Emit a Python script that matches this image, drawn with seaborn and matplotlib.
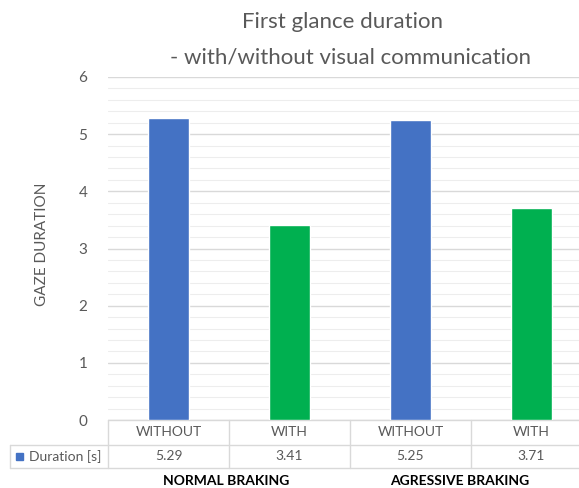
import matplotlib
matplotlib.use("Agg")
import matplotlib.pyplot as plt
from matplotlib.lines import Line2D
from matplotlib.patches import Rectangle
import seaborn as sns
import pandas as pd

title_lines = ["First glance duration", "- with/without visual communication"]
groups = ["NORMAL BRAKING", "AGRESSIVE BRAKING"]
conditions = ["WITHOUT", "WITH", "WITHOUT", "WITH"]
durations = [5.29, 3.41, 5.25, 3.71]
series_name = "Duration [s]"
bar_colors = ["#4472C4", "#00B050", "#4472C4", "#00B050"]
y_label = "GAZE DURATION"

sns.set_theme(style="white")
plt.rcParams['font.family'] = ['Lato', 'DejaVu Sans']

W, H = 579, 488
fig = plt.figure(figsize=(W / 100, H / 100), dpi=100)
fig.patch.set_facecolor("white")

ax_left, ax_bottom, ax_w, ax_h = 108, 488 - 420, 484, 343
ax = fig.add_axes([ax_left / W, ax_bottom / H, ax_w / W, ax_h / H])

df = pd.DataFrame({"pos": [str(i) for i in range(len(durations))],
                   "dur": durations})
sns.barplot(data=df, x="pos", y="dur", hue="pos", palette=bar_colors,
            legend=False, width=0.34, saturation=1, ax=ax, zorder=3)

ax.set_xlim(-0.5, len(durations) - 0.5)
ax.set_ylim(0, 6)
ax.set_yticks(range(0, 7))
ax.set_yticks([i * 0.2 for i in range(31)], minor=True)
ax.grid(axis="y", which="major", color="#D9D9D9", linewidth=1.0, zorder=0)
ax.grid(axis="y", which="minor", color="#EDEDED", linewidth=0.8, zorder=0)
ax.set_axisbelow(True)
for s in ax.spines.values():
    s.set_visible(False)
ax.tick_params(axis="y", which="both", length=0, pad=15, labelsize=11,
               labelcolor="#595959")
ax.set_xticks([])
ax.set_xlabel("")
ax.set_ylabel("")
fig.text(42 / W, 1 - 244 / H, y_label, rotation=90, ha="center", va="center",
         fontsize=11, color="#595959")

fig.text(342 / W, 1 - 22 / H, title_lines[0], ha="center", va="center",
         fontsize=16, color="#595959")
fig.text(350 / W, 1 - 57 / H, title_lines[1], ha="center", va="center",
         fontsize=16, color="#595959")

# Data table
def fy(px):
    return 1 - px / H

def fx(px):
    return px / W

line_c = "#D9D9D9"
xform = ax.get_xaxis_transform()
def ay(px):
    return -(px - 420) / ax_h

legend_left = (10 - ax_left) / ax_w
axt = ax.transAxes
# horizontal lines
ax.add_line(Line2D([0, 1], [ay(420), ay(420)], transform=axt, color=line_c,
                   lw=1, clip_on=False))
ax.add_line(Line2D([legend_left, 1], [ay(444.5), ay(444.5)], transform=axt,
                   color=line_c, lw=1, clip_on=False))
ax.add_line(Line2D([legend_left, 1], [ay(467.5), ay(467.5)], transform=axt,
                   color=line_c, lw=1, clip_on=False))
# vertical lines
for b in [i - 0.5 for i in range(len(durations) + 1)]:
    ax.add_line(Line2D([b, b], [ay(420), ay(467.5)], transform=xform,
                       color=line_c, lw=1, clip_on=False))
ax.add_line(Line2D([legend_left, legend_left], [ay(444.5), ay(467.5)],
                   transform=axt, color=line_c, lw=1, clip_on=False))

for i, (c, v) in enumerate(zip(conditions, durations)):
    ax.text(i, ay(432.5), c, transform=xform, ha="center", va="center",
            fontsize=10, color="#595959", clip_on=False)
    ax.text(i, ay(456.5), f"{v:.2f}", transform=xform, ha="center",
            va="center", fontsize=10, color="#595959", clip_on=False)

fig.add_artist(Rectangle((fx(16), fy(460)), 7 / W, 7 / H,
                         transform=fig.transFigure, color=bar_colors[0]))
fig.text(fx(29), fy(456.5), series_name, ha="left", va="center",
         fontsize=10, color="#595959")

fig.text(fx(226), fy(481), groups[0], ha="center", va="center",
         fontsize=10, fontweight="bold", color="black")
fig.text(fx(460), fy(481), groups[1], ha="center", va="center",
         fontsize=10, fontweight="bold", color="black")

fig.savefig("out.png", dpi=100)
